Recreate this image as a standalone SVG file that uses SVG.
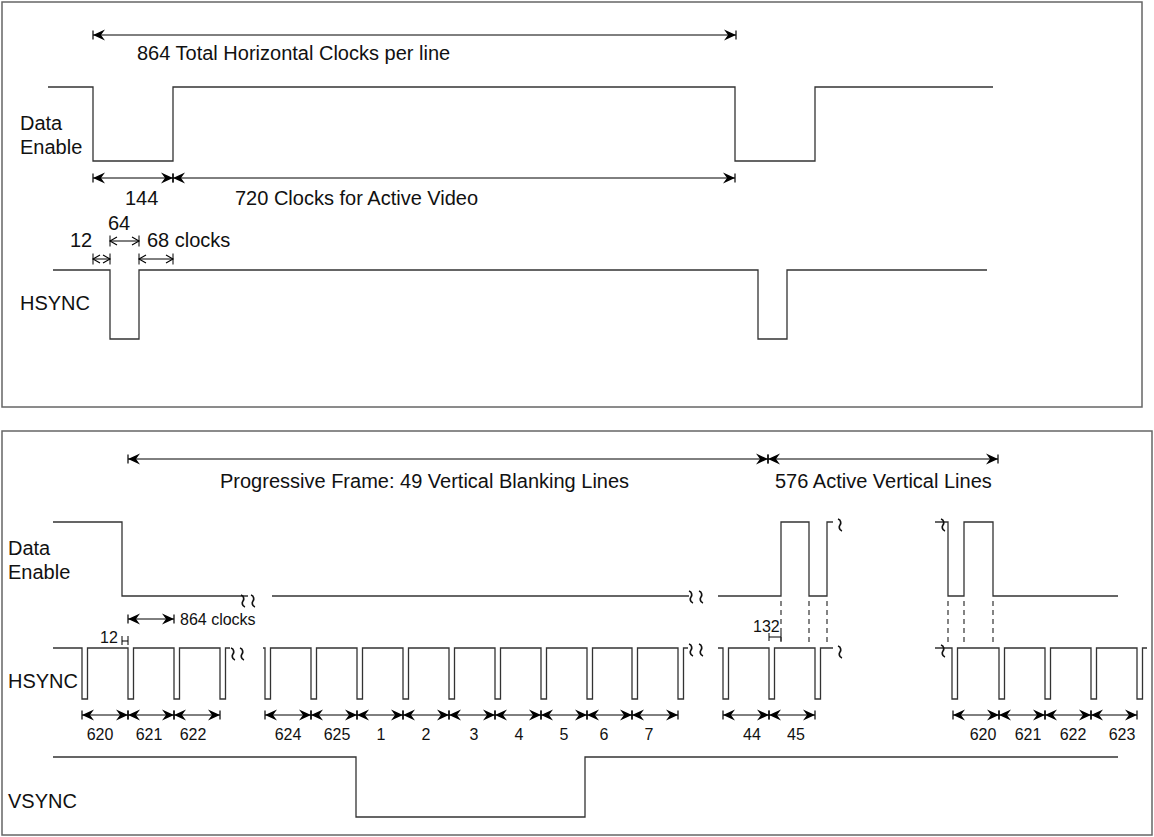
<svg xmlns="http://www.w3.org/2000/svg" xmlns:xlink="http://www.w3.org/1999/xlink" width="1154" height="837" viewBox="0 0 1154 837">
<style>
.frame{fill:none;stroke:#666;stroke-width:1.5}
.wave{fill:none;stroke:#333;stroke-width:1.3}
.dim{fill:none;stroke:#000;stroke-width:1}
.dash{fill:none;stroke:#333;stroke-width:1.2;stroke-dasharray:5,4}
.brk{fill:none;stroke:#111;stroke-width:1.7}
.t20{font-family:"Liberation Sans",Arial,sans-serif;font-size:20px;fill:#111}
.t16{font-family:"Liberation Sans",Arial,sans-serif;font-size:16px;fill:#111}
</style>
<defs>
<marker id="ah" markerUnits="userSpaceOnUse" markerWidth="16" markerHeight="14" viewBox="-14 -7 16 14" refX="0" refY="0" orient="auto-start-reverse" overflow="visible">
<path d="M0,0 L-12,-5.5 L-8,0 L-12,5.5 Z" fill="#000"/>
<path d="M0,-4.5 V4.5" stroke="#000" stroke-width="1.2"/>
</marker>
<marker id="as" markerUnits="userSpaceOnUse" markerWidth="12" markerHeight="12" viewBox="-10 -6 12 12" refX="0" refY="0" orient="auto-start-reverse" overflow="visible">
<path d="M-7,-4 L0,0 L-7,4" fill="none" stroke="#000" stroke-width="1.1"/>
<path d="M0,-5.5 V5.5" stroke="#000" stroke-width="1"/>
</marker>
<path id="brk" d="M-2,-6 C1.2,-5 1.2,-1.5 0,0 C-1.2,1.5 -1.2,5 2,6"/>
</defs>

<g id="top-panel">
<rect class="frame" x="2" y="2" width="1140" height="405"/>
</g>
<g id="bottom-panel">
<rect class="frame" x="2" y="431" width="1150" height="404"/>
</g>

<g id="top-labels">
<text class="t20" x="20" y="130">Data</text>
<text class="t20" x="20" y="154">Enable</text>
<text class="t20" x="20" y="310">HSYNC</text>
<text class="t20" x="137" y="60">864 Total Horizontal Clocks per line</text>
<text class="t20" x="125" y="205">144</text>
<text class="t20" x="235" y="205">720 Clocks for Active Video</text>
<text class="t20" x="70" y="247">12</text>
<text class="t20" x="108" y="230">64</text>
<text class="t20" x="147" y="247">68 clocks</text>
</g>

<g id="top-de">
<path class="wave" d="M48,87 H93 V161 H173 V87 H735 V161 H815 V87 H993"/>
</g>
<g id="top-hsync">
<path class="wave" d="M53,270 H110 V339 H139 V270 H758 V339 H787 V270 H987"/>
</g>

<g id="connectors">
<path class="dim" d="M93,35 H736" marker-start="url(#ah)" marker-end="url(#ah)"/>
<path class="dim" d="M93,178 H173" marker-start="url(#ah)" marker-end="url(#ah)"/>
<path class="dim" d="M173,178 H735" marker-start="url(#ah)" marker-end="url(#ah)"/>
<path class="dim" d="M93,259 H110" marker-start="url(#as)" marker-end="url(#as)"/>
<path class="dim" d="M110,241 H139" marker-start="url(#as)" marker-end="url(#as)"/>
<path class="dim" d="M139,259 H173" marker-start="url(#as)" marker-end="url(#as)"/>
<path class="dim" d="M128,459 H768" marker-start="url(#ah)" marker-end="url(#ah)"/>
<path class="dim" d="M768,459 H998" marker-start="url(#ah)" marker-end="url(#ah)"/>
<path class="dim" d="M128,619 H174" marker-start="url(#ah)" marker-end="url(#ah)"/>
<path class="dim" d="M82,715 H128" marker-start="url(#ah)" marker-end="url(#ah)"/>
<path class="dim" d="M128,715 H174" marker-start="url(#ah)" marker-end="url(#ah)"/>
<path class="dim" d="M174,715 H220" marker-start="url(#ah)" marker-end="url(#ah)"/>
<path class="dim" d="M265,715 H311" marker-start="url(#ah)" marker-end="url(#ah)"/>
<path class="dim" d="M311,715 H357" marker-start="url(#ah)" marker-end="url(#ah)"/>
<path class="dim" d="M357,715 H403" marker-start="url(#ah)" marker-end="url(#ah)"/>
<path class="dim" d="M403,715 H449" marker-start="url(#ah)" marker-end="url(#ah)"/>
<path class="dim" d="M449,715 H495" marker-start="url(#ah)" marker-end="url(#ah)"/>
<path class="dim" d="M495,715 H541" marker-start="url(#ah)" marker-end="url(#ah)"/>
<path class="dim" d="M541,715 H587" marker-start="url(#ah)" marker-end="url(#ah)"/>
<path class="dim" d="M587,715 H632" marker-start="url(#ah)" marker-end="url(#ah)"/>
<path class="dim" d="M632,715 H678" marker-start="url(#ah)" marker-end="url(#ah)"/>
<path class="dim" d="M723,715 H769" marker-start="url(#ah)" marker-end="url(#ah)"/>
<path class="dim" d="M769,715 H815" marker-start="url(#ah)" marker-end="url(#ah)"/>
<path class="dim" d="M953,715 H999" marker-start="url(#ah)" marker-end="url(#ah)"/>
<path class="dim" d="M999,715 H1045" marker-start="url(#ah)" marker-end="url(#ah)"/>
<path class="dim" d="M1045,715 H1091" marker-start="url(#ah)" marker-end="url(#ah)"/>
<path class="dim" d="M1091,715 H1137" marker-start="url(#ah)" marker-end="url(#ah)"/>
<path class="dim" d="M122,636 V645 M128,636 V645 M122,641 H128"/>
<path class="dim" d="M769,633 V641 M781,633 V641 M769,637 H781"/>
<path class="dash" d="M781,601 V646 M809,601 V646 M827,601 V646 M948,601 V646 M964,601 V646 M993,601 V646"/>
</g>

<g id="bottom-labels">
<text class="t20" x="8" y="555">Data</text>
<text class="t20" x="8" y="579">Enable</text>
<text class="t20" x="8" y="688">HSYNC</text>
<text class="t20" x="8" y="808">VSYNC</text>
<text class="t20" x="220" y="488">Progressive Frame: 49 Vertical Blanking Lines</text>
<text class="t20" x="775" y="488">576 Active Vertical Lines</text>
<text class="t16" x="180" y="625">864 clocks</text>
<text class="t16" x="100" y="643">12</text>
<text class="t16" x="753" y="632">132</text>
<g text-anchor="middle">
<text class="t16" x="100" y="740">620</text>
<text class="t16" x="149" y="740">621</text>
<text class="t16" x="193" y="740">622</text>
<text class="t16" x="288" y="740">624</text>
<text class="t16" x="337" y="740">625</text>
<text class="t16" x="381" y="740">1</text>
<text class="t16" x="426" y="740">2</text>
<text class="t16" x="474" y="740">3</text>
<text class="t16" x="519" y="740">4</text>
<text class="t16" x="564" y="740">5</text>
<text class="t16" x="604" y="740">6</text>
<text class="t16" x="649" y="740">7</text>
<text class="t16" x="752" y="740">44</text>
<text class="t16" x="796" y="740">45</text>
<text class="t16" x="983" y="740">620</text>
<text class="t16" x="1028" y="740">621</text>
<text class="t16" x="1073" y="740">622</text>
<text class="t16" x="1122" y="740">623</text>
</g>
</g>

<g id="bottom-de">
<path class="wave" d="M53,522 H122 V596 H248"/>
<path class="wave" d="M272,596 H689"/>
<path class="wave" d="M718,596 H781 V522 H809 V596 H827 V522 H833"/>
<path class="wave" d="M935,522 H948 V596 H964 V522 H993 V596 H1118"/>
</g>

<g id="bottom-hsync">
<path class="wave" d="M53,648 H82 V699 H87.5 V648 H128 V699 H133.5 V648 H174 V699 H179.5 V648 H220 V699 H225.5 V648 H230"/>
<path class="wave" d="M263,648 H265 V699 H270.5 V648 H311 V699 H316.5 V648 H357 V699 H362.5 V648 H403 V699 H408.5 V648 H449 V699 H454.5 V648 H495 V699 H500.5 V648 H541 V699 H546.5 V648 H587 V699 H592.5 V648 H632 V699 H637.5 V648 H678 V699 H683.5 V648 H688"/>
<path class="wave" d="M718,648 H723 V699 H728.5 V648 H769 V699 H774.5 V648 H815 V699 H820.5 V648 H833"/>
<path class="wave" d="M935,648 H952 V699 H957.5 V648 H999 V699 H1004.5 V648 H1045 V699 H1050.5 V648 H1091 V699 H1096.5 V648 H1137 V699 H1142.5 V648 H1147"/>
</g>

<g id="bottom-vsync">
<path class="wave" d="M53,757 H356 V817 H585 V757 H1118"/>
</g>

<g id="breaks" class="brk">
<use xlink:href="#brk" x="243" y="601"/>
<use xlink:href="#brk" x="253" y="601"/>
<use xlink:href="#brk" x="233" y="654"/>
<use xlink:href="#brk" x="242" y="654"/>
<use xlink:href="#brk" x="691" y="597"/>
<use xlink:href="#brk" x="701" y="597"/>
<use xlink:href="#brk" x="691" y="650"/>
<use xlink:href="#brk" x="701" y="650"/>
<use xlink:href="#brk" x="840" y="525"/>
<use xlink:href="#brk" x="840" y="652"/>
<use xlink:href="#brk" x="943" y="525"/>
<use xlink:href="#brk" x="943" y="651"/>
</g>
</svg>
